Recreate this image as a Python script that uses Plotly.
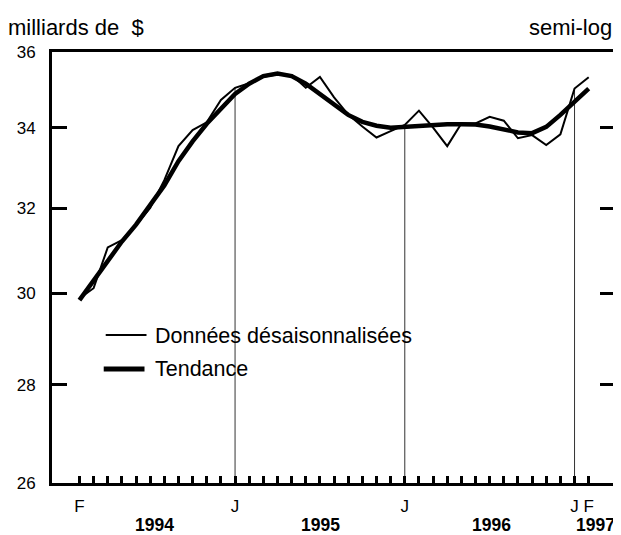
import math
import plotly.graph_objects as go

# ---- data (monthly, Feb 1994 .. Feb 1997) ----
month_index = list(range(37))
month_labels = ["F"] + [""] * 10 + ["J"] + [""] * 11 + ["J"] + [""] * 11 + ["J", "F"]

donnees = [29.89, 30.12, 31.06, 31.23, 31.59, 32.00, 32.68, 33.53, 33.94, 34.14,
           34.72, 35.04, 35.16, 35.33, 35.39, 35.38, 35.04, 35.33, 34.79, 34.34,
           34.03, 33.75, 33.91, 34.07, 34.44, 34.00, 33.53, 34.11, 34.11, 34.28,
           34.18, 33.73, 33.81, 33.56, 33.83, 35.02, 35.32]

tendance = [29.85, 30.30, 30.75, 31.20, 31.60, 32.05, 32.55, 33.15, 33.65, 34.10,
            34.50, 34.88, 35.15, 35.35, 35.42, 35.35, 35.15, 34.88, 34.58, 34.33,
            34.15, 34.05, 34.00, 34.02, 34.06, 34.08, 34.09, 34.09, 34.08, 34.03,
            33.96, 33.88, 33.86, 34.02, 34.33, 34.68, 35.02]

y_ticks = [26, 28, 30, 32, 34, 36]
year_labels = ["1994", "1995", "1996", "1997"]
year_positions = [5.3, 17.05, 29.1, 36.45]
january_index = [11, 23, 35]

FONT = "Arial, Liberation Sans, sans-serif"

fig = go.Figure()

# vertical January reference lines (from bottom to series value)
for j in january_index:
    fig.add_trace(go.Scatter(x=[j, j], y=[26, donnees[j]], mode="lines",
                             line=dict(color="#333333", width=1),
                             showlegend=False, hoverinfo="skip"))

fig.add_trace(go.Scatter(x=month_index, y=tendance, mode="lines", name="Tendance",
                         line=dict(color="black", width=4.5), showlegend=False))
fig.add_trace(go.Scatter(x=month_index, y=donnees, mode="lines",
                         name="Données désaisonnalisées",
                         line=dict(color="black", width=2), showlegend=False))

# page body has an 8px margin: figure is shifted by 8px, so shrink by 8px
W, H = 613, 527
ml, mr, mt, mb = 44, 3, 44, 52
# plot area in screen coordinates: x 52..618, y 52..483
SX0, SW = 52, 566
SY1, SH = 483, 431


def px(x):
    return (x - SX0) / SW


def py(y):
    return (SY1 - y) / SH


# manual legend
fig.add_shape(type="line", xref="paper", yref="paper", x0=px(106), x1=px(147),
              y0=py(335), y1=py(335), line=dict(color="black", width=2))
fig.add_shape(type="line", xref="paper", yref="paper", x0=px(104), x1=px(145),
              y0=py(369), y1=py(369), line=dict(color="black", width=5))
fig.add_annotation(xref="paper", yref="paper", x=px(154), y=py(336), xanchor="left",
                   yanchor="middle", text="Données désaisonnalisées", showarrow=False,
                   font=dict(family=FONT, size=21.5, color="black"))
fig.add_annotation(xref="paper", yref="paper", x=px(154), y=py(369), xanchor="left",
                   yanchor="middle", text="Tendance", showarrow=False,
                   font=dict(family=FONT, size=21.5, color="black"))

# titles
fig.add_annotation(xref="paper", yref="paper", x=px(6), y=py(28), xanchor="left",
                   yanchor="middle", text="milliards de\u00a0\u00a0$", showarrow=False,
                   font=dict(family=FONT, size=22, color="black"))
fig.add_annotation(xref="paper", yref="paper", x=px(617), y=py(28), xanchor="right",
                   yanchor="middle", text="semi-log", showarrow=False,
                   font=dict(family=FONT, size=22, color="black"))

# year labels
for lab, pos in zip(year_labels, year_positions):
    fig.add_annotation(xref="x", yref="paper", x=pos, y=py(525), xanchor="center",
                       yanchor="middle", text="<b>" + lab + "</b>", showarrow=False,
                       borderpad=0,
                       font=dict(family=FONT, size=17.5, color="black"))

fig.update_layout(
    width=W, height=H,
    margin=dict(l=ml, r=mr, t=mt, b=mb, pad=0),
    paper_bgcolor="white", plot_bgcolor="white",
    font=dict(family=FONT, size=17, color="black"),
    showlegend=False,
    xaxis=dict(range=[-1.94, 37.86], showgrid=False, zeroline=False,
               showline=True, linewidth=3, linecolor="black", mirror=True,
               ticks="inside", ticklen=7, tickwidth=3, tickcolor="black",
               tickvals=month_index, ticktext=month_labels,
               tickfont=dict(family=FONT, size=17), ticklabelstandoff=6),
    yaxis=dict(type="log", range=[math.log10(26), math.log10(36)],
               showgrid=False, zeroline=False,
               showline=True, linewidth=3, linecolor="black", mirror="ticks",
               ticks="inside", ticklen=15, tickwidth=3, tickcolor="black",
               tickvals=y_ticks, ticktext=[str(v) for v in y_ticks],
               tickfont=dict(family=FONT, size=17), ticklabelstandoff=10),
)

fig.write_html("out.html")
